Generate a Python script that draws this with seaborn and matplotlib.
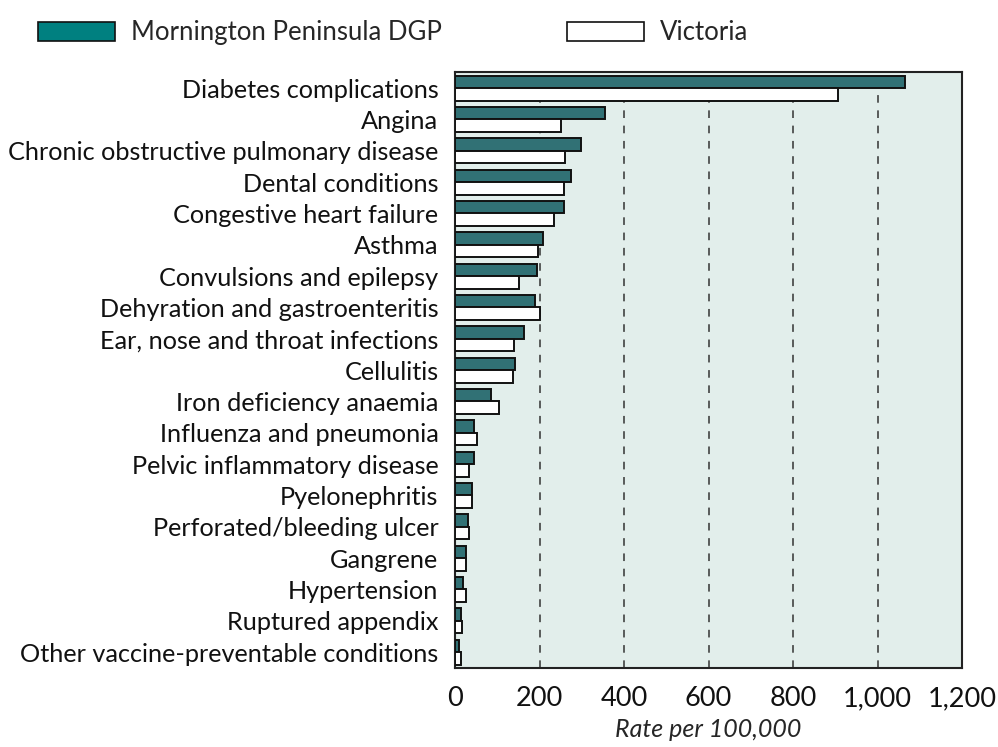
import pandas as pd
import matplotlib.pyplot as plt
import seaborn as sns
from matplotlib.patches import Patch

# Data (rate per 100,000)
conditions = [
    'Diabetes complications', 'Angina', 'Chronic obstructive pulmonary disease',
    'Dental conditions', 'Congestive heart failure', 'Asthma',
    'Convulsions and epilepsy', 'Dehyration and gastroenteritis',
    'Ear, nose and throat infections', 'Cellulitis', 'Iron deficiency anaemia',
    'Influenza and pneumonia', 'Pelvic inflammatory disease', 'Pyelonephritis',
    'Perforated/bleeding ulcer', 'Gangrene', 'Hypertension', 'Ruptured appendix',
    'Other vaccine-preventable conditions',
]
mornington = [1065, 355, 297, 275, 257, 209, 194, 188, 164, 142, 85, 45, 44, 41, 31, 26, 18, 14, 10]
victoria = [907, 250, 260, 257, 234, 197, 152, 200, 140, 138, 105, 51, 34, 40, 32, 26, 27, 17, 15]
series = ['Mornington Peninsula DGP', 'Victoria']
xticks = [0, 200, 400, 600, 800, 1000, 1200]

df = pd.concat([
    pd.DataFrame({'condition': conditions, 'rate': mornington, 'area': series[0]}),
    pd.DataFrame({'condition': conditions, 'rate': victoria, 'area': series[1]}),
])

sns.set_style('white')
plt.rcParams['font.family'] = ['Lato', 'DejaVu Sans']

teal = '#267b80'
fig = plt.figure(figsize=(9.98, 7.47), dpi=100)
ax = fig.add_axes([0.456, 0.106, 0.508, 0.797])
ax.set_facecolor('#e2eeeb')

sns.barplot(data=df, y='condition', x='rate', hue='area', hue_order=series,
            palette={series[0]: teal, series[1]: 'white'}, orient='h',
            width=0.8, edgecolor='#111111', linewidth=1.4, legend=False,
            ax=ax, zorder=3)

for xv in xticks[1:-1]:
    ax.axvline(xv, color='#333333', linestyle=(0, (5, 5)), linewidth=1.1, zorder=1)

ax.set_xlim(0, 1200)
ax.set_ylim(18.5, -0.5)
ax.set_xticks(xticks)
ax.set_xticklabels(['0', '200', '400', '600', '800', '1,000', '1,200'])
ax.tick_params(axis='x', direction='in', length=5, labelsize=19.5, pad=13, colors='#111111')
ax.tick_params(axis='y', length=0, labelsize=18.2, pad=12, colors='#111111')
ax.set_ylabel('')
ax.set_xlabel('Rate per 100,000', fontsize=18, fontstyle='italic', labelpad=5)
for s in ax.spines.values():
    s.set_color('#222222')
    s.set_linewidth(1.5)
    s.set_visible(True)

handles = [Patch(facecolor='#008080', edgecolor='#111111', linewidth=1.2, label=series[0]),
           Patch(facecolor='white', edgecolor='#111111', linewidth=1.2, label=series[1])]
fig.legend(handles=handles, loc='upper left', bbox_to_anchor=(0.015, 1.004), ncol=2,
           frameon=False, fontsize=18.5, handlelength=3.0, handleheight=0.78,
           columnspacing=4.85, handletextpad=0.62)

fig.savefig('out.png', dpi=100)
